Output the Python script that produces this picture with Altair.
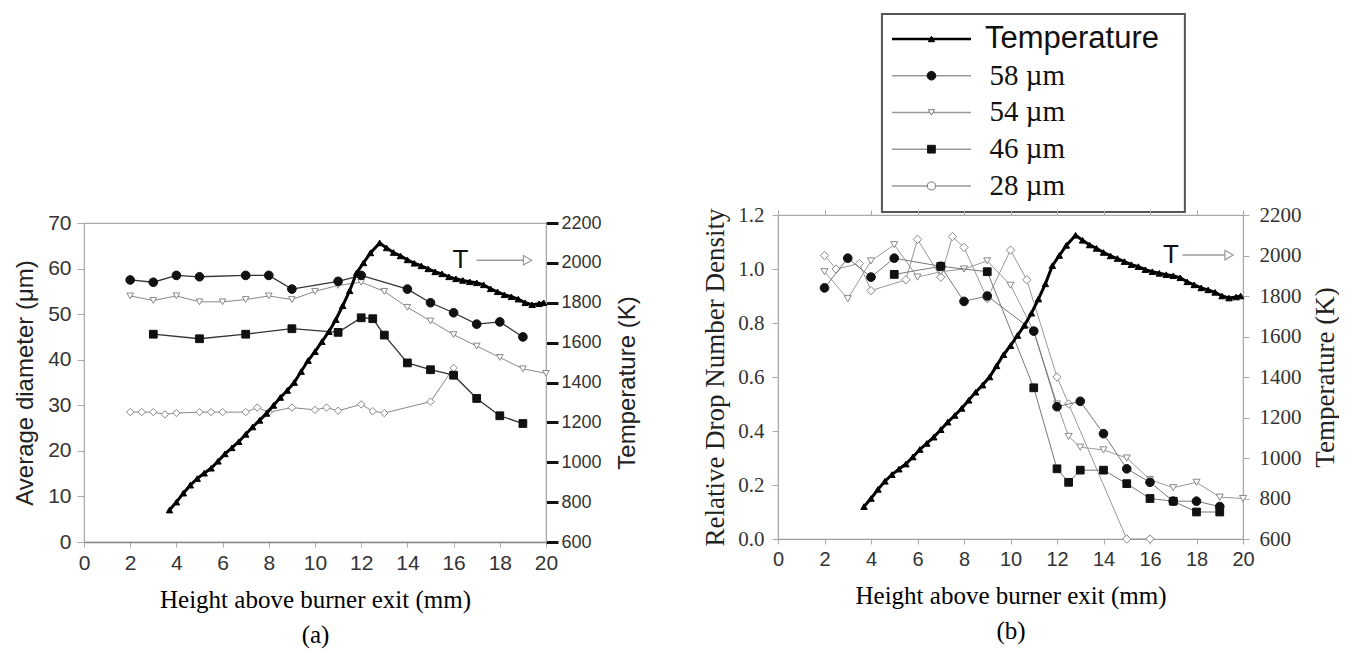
import altair as alt
import pandas as pd

# ---------------- data ----------------
height_ticks = list(range(0, 21, 2))
diam_ticks = list(range(0, 71, 10))
temp_ticks = list(range(600, 2201, 200))
dens_ticks = [0.0, 0.2, 0.4, 0.6, 0.8, 1.0, 1.2]

# (a) average droplet diameter (um) vs height above burner exit (mm)
a58_x = [2, 3, 4, 5, 7, 8, 9, 11, 12, 14, 15, 16, 17, 18, 19]
a58_y = [57.5, 57, 58.5, 58.2, 58.5, 58.5, 55.5, 57.2, 58.5, 55.5, 52.5, 50.3, 47.8, 48.3, 45]
a54_x = [2, 3, 4, 5, 6, 7, 8, 9, 10, 11, 12, 13, 14, 15, 16, 17, 18, 19, 20]
a54_y = [54, 53, 54, 52.7, 52.7, 53.2, 54, 53.2, 55, 56.3, 57, 55, 51.5, 48.5, 45.5, 43, 40.5, 38, 37]
a46_x = [3, 5, 7, 9, 11, 12, 12.5, 13, 14, 15, 16, 17, 18, 19]
a46_y = [45.6, 44.6, 45.6, 46.8, 46, 49.2, 49, 45.4, 39.3, 37.8, 36.6, 31.5, 27.7, 26]
a28_x = [2, 2.5, 3, 3.5, 4, 5, 5.5, 6, 7, 7.5, 8, 9, 10, 10.5, 11, 12, 12.5, 13, 15, 16]
a28_y = [28.5, 28.5, 28.5, 28, 28.3, 28.5, 28.5, 28.5, 28.5, 29.5, 28.5, 29.5, 29, 29.5, 28.8, 30.2, 28.7, 28.3, 30.8, 38.2]

# gas temperature profile (K)
temp_x = [3.7, 4.0, 4.3, 4.6, 4.9, 5.2, 5.5, 5.8, 6.1, 6.4, 6.7, 7.0, 7.3, 7.6, 7.9, 8.2, 8.5, 8.8, 9.1, 9.4,
          9.7, 10.0, 10.3, 10.6, 10.9, 11.2, 11.5, 11.8, 12.1, 12.4, 12.8, 13.1, 13.4, 13.7, 14.0, 14.3, 14.6,
          14.9, 15.2, 15.5, 15.8, 16.1, 16.4, 16.7, 17.0, 17.3, 17.6, 17.9, 18.2, 18.5, 18.8, 19.1, 19.4, 19.7, 19.9]
temp_y = [760, 800, 845, 885, 918, 945, 970, 1005, 1042, 1072, 1103, 1140, 1177, 1210, 1245, 1285, 1325, 1360,
          1400, 1455, 1510, 1555, 1605, 1655, 1715, 1785, 1860, 1950, 2000, 2050, 2100, 2075, 2052, 2035, 2015,
          1998, 1985, 1970, 1955, 1945, 1930, 1920, 1912, 1905, 1900, 1890, 1870, 1855, 1840, 1830, 1818, 1800,
          1790, 1795, 1800]

# (b) relative drop number density
b58_x = [2, 3, 4, 5, 7, 8, 9, 11, 12, 13, 14, 15, 16, 17, 18, 19]
b58_y = [0.93, 1.04, 0.97, 1.04, 1.01, 0.88, 0.90, 0.77, 0.49, 0.51, 0.39, 0.26, 0.21, 0.14, 0.14, 0.12]
b54_x = [2, 3, 4, 5, 6, 7, 8, 9, 10, 11, 12, 12.5, 13, 14, 15, 16, 17, 18, 19, 20]
b54_y = [0.99, 0.89, 1.03, 1.09, 0.97, 0.99, 1.0, 1.03, 0.94, 0.77, 0.50, 0.38, 0.34, 0.33, 0.30, 0.22, 0.19, 0.21, 0.155, 0.15]
b46_x = [5, 7, 9, 11, 12, 12.5, 13, 14, 15, 16, 17, 18, 19]
b46_y = [0.98, 1.01, 0.99, 0.56, 0.26, 0.21, 0.255, 0.255, 0.205, 0.15, 0.14, 0.10, 0.10]
b28_x = [2, 2.5, 3.5, 4, 5.5, 6, 7, 7.5, 8, 9, 10, 10.7, 12, 12.5, 15, 16]
b28_y = [1.05, 1.0, 1.02, 0.92, 0.96, 1.11, 0.97, 1.12, 1.08, 0.89, 1.07, 0.96, 0.60, 0.50, 0.0, 0.0]

# "T ->" annotation (height mm, temperature K)
ann_a = {"tx": 16.3, "ty": 2013, "x0": 17.0, "x1": 19.2}
ann_b = {"tx": 16.9, "ty": 2002, "x0": 17.4, "x1": 19.4}

legend_labels = ["Temperature", "58 µm", "54 µm", "46 µm", "28 µm"]

# ---------------- styling ----------------
SANS = "Liberation Sans"
SERIF = "Liberation Serif"

x_scale = alt.Scale(domain=[0, 20], nice=False, zero=False)
t_scale = alt.Scale(domain=[600, 2200], nice=False, zero=False)
d_scale = alt.Scale(domain=[0, 70], nice=False, zero=False)
n_scale = alt.Scale(domain=[0, 1.2], nice=False, zero=False)

ax_a_x = alt.Axis(values=height_ticks, format="d", title=["Height above burner exit (mm)", "(a)"],
                  titleFont=SERIF, titleFontSize=25, titleFontWeight="normal", titleColor="#000",
                  titleLineHeight=35, titlePadding=14, labelFont=SANS, labelFontSize=21, labelColor="#333",
                  labelPadding=5, labelFlush=False, tickColor="#aaa", tickSize=5, domainColor="#888",
                  domainWidth=1.5, grid=False)
ax_a_y = alt.Axis(values=diam_ticks, title="Average diameter (μm)", titleFont=SANS, titleFontSize=24,
                  titleFontWeight="normal", titleColor="#222", titlePadding=10, labelFont=SANS,
                  labelFontSize=21, labelColor="#333", labelPadding=6, tickColor="#aaa", tickSize=7,
                  domainColor="#aaa", grid=False)
ax_a_t = alt.Axis(orient="right", values=temp_ticks, format="d", title="Temperature (K)", titleAngle=270,
                  titleBaseline="top", titleFont=SANS, titleFontSize=24, titleFontWeight="normal",
                  titleColor="#222", titlePadding=14, labelFont=SANS, labelFontSize=18, labelColor="#333",
                  labelPadding=3, tickColor="#111", tickSize=12, tickWidth=3, domainColor="#aaa", grid=False)

ax_b_x = alt.Axis(values=height_ticks, format="d", title=["Height above burner exit (mm)", "(b)"],
                  titleFont=SERIF, titleFontSize=25, titleFontWeight="normal", titleColor="#000",
                  titleLineHeight=35, titlePadding=14, labelFont=SANS, labelFontSize=20, labelColor="#333",
                  labelPadding=5, labelFlush=False, tickColor="#aaa", tickSize=5, domainColor="#999",
                  grid=False)
ax_b_top = alt.Axis(orient="top", values=height_ticks, labels=False, title=None, tickColor="#aaa",
                    tickSize=5, domainColor="#aaa", grid=False)
ax_b_y = alt.Axis(values=dens_ticks, format=".1f", title="Relative Drop Number Density", titleFont=SERIF,
                  titleFontSize=27, titleFontWeight="normal", titleColor="#222", titlePadding=8,
                  labelFont=SERIF, labelFontSize=21, labelColor="#333", labelPadding=8, tickColor="#aaa",
                  tickSize=6, domainColor="#aaa", grid=False)
ax_b_t = alt.Axis(orient="right", values=temp_ticks, format="d", title="Temperature (K)", titleAngle=270,
                  titleBaseline="top", titleFont=SERIF, titleFontSize=27, titleFontWeight="normal",
                  titleColor="#222", titlePadding=11, labelFont=SERIF, labelFontSize=21, labelColor="#333",
                  labelPadding=10, tickColor="#aaa", tickSize=6, domainColor="#aaa", grid=False)


def series(xs, ys, xa, ya, ys_scale, shape, fill, stroke, size, line, lw):
    df = pd.DataFrame({"h": xs, "v": ys})
    base = alt.Chart(df).encode(
        x=alt.X("h:Q", scale=x_scale, axis=xa),
        y=alt.Y("v:Q", scale=ys_scale, axis=ya),
    )
    return [
        base.mark_line(color=line, strokeWidth=lw),
        base.mark_point(shape=shape, filled=True, fill=fill, stroke=stroke, strokeWidth=1,
                        size=size, opacity=1),
    ]


def annotation(ann, xa, ya):
    tdf = pd.DataFrame({"h": [ann["tx"]], "v": [ann["ty"]], "t": ["T"]})
    adf = pd.DataFrame({"h": [ann["x0"]], "h2": [ann["x1"]], "v": [ann["ty"]]})
    hdf = pd.DataFrame({"h": [ann["x1"]], "v": [ann["ty"]]})
    txt = alt.Chart(tdf).mark_text(font=SANS, fontSize=26, color="#111", align="center",
                                   baseline="middle").encode(
        x=alt.X("h:Q", scale=x_scale, axis=xa), y=alt.Y("v:Q", scale=t_scale, axis=ya), text="t:N")
    rule = alt.Chart(adf).mark_rule(color="#999", strokeWidth=1.5).encode(
        x=alt.X("h:Q", scale=x_scale, axis=xa), x2="h2:Q", y=alt.Y("v:Q", scale=t_scale, axis=ya))
    head = alt.Chart(hdf).mark_point(shape="triangle-right", filled=True, fill="white", stroke="#999",
                                     strokeWidth=1.2, size=90, opacity=1).encode(
        x=alt.X("h:Q", scale=x_scale, axis=xa), y=alt.Y("v:Q", scale=t_scale, axis=ya))
    return [rule, head, txt]


# ---------------- panel (a) ----------------
a_diam = alt.layer(
    *series(a28_x, a28_y, ax_a_x, ax_a_y, d_scale, "diamond", "white", "#888", 55, "#888", 1),
    *series(a54_x, a54_y, ax_a_x, ax_a_y, d_scale, "triangle-down", "white", "#888", 45, "#888", 1),
    *series(a46_x, a46_y, ax_a_x, ax_a_y, d_scale, "square", "#111", "#111", 60, "#333", 1.3),
    *series(a58_x, a58_y, ax_a_x, ax_a_y, d_scale, "circle", "#111", "#111", 75, "#333", 1.3),
)
a_temp = alt.layer(
    *series(temp_x, temp_y, ax_a_x, ax_a_t, t_scale, "triangle-up", "#000", "#000", 42, "#000", 3),
    *annotation(ann_a, ax_a_x, ax_a_t),
)
panel_a = alt.layer(a_diam, a_temp).resolve_scale(y="independent").properties(
    width=462, height=319, view=alt.ViewBackground(stroke="#aaa", strokeWidth=1.2))

# ---------------- panel (b) ----------------
b_dens = alt.layer(
    *series(b28_x, b28_y, ax_b_x, ax_b_y, n_scale, "diamond", "white", "#888", 70, "#999", 1),
    *series(b54_x, b54_y, ax_b_x, ax_b_y, n_scale, "triangle-down", "white", "#888", 50, "#999", 1),
    *series(b46_x, b46_y, ax_b_x, ax_b_y, n_scale, "square", "#111", "#111", 60, "#777", 1),
    *series(b58_x, b58_y, ax_b_x, ax_b_y, n_scale, "circle", "#111", "#111", 75, "#777", 1),
)
b_temp = alt.layer(
    *series(temp_x, temp_y, ax_b_top, ax_b_t, t_scale, "triangle-up", "#000", "#000", 42, "#000", 3),
    *annotation(ann_b, ax_b_top, ax_b_t),
)
panel_b = alt.layer(b_dens, b_temp).resolve_scale(y="independent").resolve_axis(x="independent").properties(
    width=465, height=324, view=alt.ViewBackground(stroke="#aaa", strokeWidth=1.2))

# ---------------- legend (drawn on the x scale of panel b) ----------------
leg_x = alt.Scale(domain=[0, 20], nice=False, zero=False)
leg_y = alt.Scale(domain=[-0.68, 4.71], nice=False, zero=False, reverse=True)
leg_shapes = ["triangle-up", "circle", "triangle-down", "square", "circle"]
leg_fills = ["#000", "#111", "white", "#111", "white"]
leg_strokes = ["#000", "#111", "#777", "#111", "#777"]
leg_sizes = [40, 75, 40, 60, 65]
leg_lines = ["#000", "#999", "#999", "#999", "#999"]
leg_lw = [2.4, 1.5, 1.5, 1.5, 1.5]

box = alt.Chart(pd.DataFrame({"a": [4.47], "b": [17.5], "c": [-0.68], "d": [4.71]})).mark_rect(
    fill="white", stroke="#555", strokeWidth=2).encode(
    x=alt.X("a:Q", scale=leg_x, axis=None), x2="b:Q",
    y=alt.Y("c:Q", scale=leg_y, axis=None), y2="d:Q")
leg_layers = [box]
for i, lab in enumerate(legend_labels):
    row = pd.DataFrame({"a": [4.9], "b": [8.3], "m": [6.6], "r": [i], "t": [lab], "tx": [8.9 if i == 0 else 9.1]})
    leg_layers.append(alt.Chart(row).mark_rule(color=leg_lines[i], strokeWidth=leg_lw[i]).encode(
        x=alt.X("a:Q", scale=leg_x, axis=None), x2="b:Q", y=alt.Y("r:Q", scale=leg_y, axis=None)))
    leg_layers.append(alt.Chart(row).mark_point(shape=leg_shapes[i], filled=True, fill=leg_fills[i],
                                                stroke=leg_strokes[i], strokeWidth=1, size=leg_sizes[i],
                                                opacity=1).encode(
        x=alt.X("m:Q", scale=leg_x, axis=None), y=alt.Y("r:Q", scale=leg_y, axis=None)))
    leg_layers.append(alt.Chart(row).mark_text(font=SANS if i == 0 else SERIF, fontSize=31 if i == 0 else 29,
                                               color="#111", align="left", baseline="middle").encode(
        x=alt.X("tx:Q", scale=leg_x, axis=None), y=alt.Y("r:Q", scale=leg_y, axis=None), text="t:N"))
legend = alt.layer(*leg_layers).properties(width=465, height=198,
                                           view=alt.ViewBackground(stroke="transparent"))

spacer = alt.Chart(pd.DataFrame({"v": [0]})).mark_point(opacity=0).encode(
    x=alt.X("v:Q", axis=None), y=alt.Y("v:Q", axis=None)).properties(
    width=462, height=209, view=alt.ViewBackground(stroke="transparent"))

left_col = alt.vconcat(spacer, panel_a, spacing=0, bounds="flush")
right_col = alt.vconcat(legend, panel_b, spacing=3, bounds="flush")

chart = alt.hconcat(left_col, right_col, spacing=61).properties(
    padding={"left": 5, "top": 4, "right": 0, "bottom": 2},
    background="white",
)

chart.save("out.html", embed_options={"renderer": "svg", "actions": False})
